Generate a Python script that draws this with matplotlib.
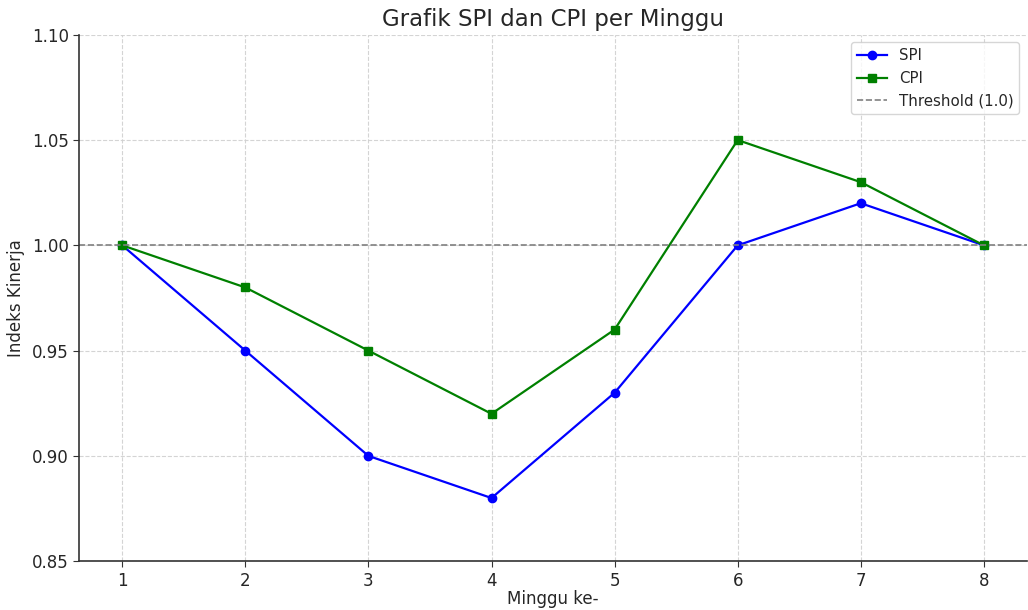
import matplotlib
matplotlib.use("Agg")
import matplotlib.pyplot as plt

weeks = [1, 2, 3, 4, 5, 6, 7, 8]
spi = [1.00, 0.95, 0.90, 0.88, 0.93, 1.00, 1.02, 1.00]
cpi = [1.00, 0.98, 0.95, 0.92, 0.96, 1.05, 1.03, 1.00]
threshold = 1.0

text_color = '#262626'
plt.rcParams['font.family'] = ['DejaVu Sans']
plt.rcParams['text.color'] = text_color
plt.rcParams['axes.labelcolor'] = text_color
plt.rcParams['xtick.color'] = '#333333'
plt.rcParams['ytick.color'] = '#333333'
plt.rcParams['xtick.labelcolor'] = text_color
plt.rcParams['ytick.labelcolor'] = text_color

fig, ax = plt.subplots(figsize=(10.28, 6.10), dpi=100)
fig.subplots_adjust(left=0.077, right=0.999, top=0.943, bottom=0.080)

ax.plot(weeks, spi, marker='o', color='blue', label='SPI', linewidth=1.6, markersize=6)
ax.plot(weeks, cpi, marker='s', color='green', label='CPI', linewidth=1.6, markersize=6)
ax.axhline(threshold, color='gray', linestyle='--', linewidth=1.2, label='Threshold (1.0)')

ax.set_ylim(0.85, 1.10)
ax.set_xticks(weeks)
ax.set_title('Grafik SPI dan CPI per Minggu', fontsize=16.5)
ax.set_xlabel('Minggu ke-', fontsize=12, labelpad=0)
ax.set_ylabel('Indeks Kinerja', fontsize=12, labelpad=5)
ax.tick_params(labelsize=12, length=4)

ax.grid(True, linestyle='--', color='#d0d0d0', linewidth=0.8, alpha=0.9)
for side in ['top', 'right']:
    ax.spines[side].set_visible(False)
for side in ['left', 'bottom']:
    ax.spines[side].set_color('#333333')
    ax.spines[side].set_linewidth(1.2)

ax.legend(fontsize=10.8, loc='upper right')

fig.savefig('out.png', dpi=100)
